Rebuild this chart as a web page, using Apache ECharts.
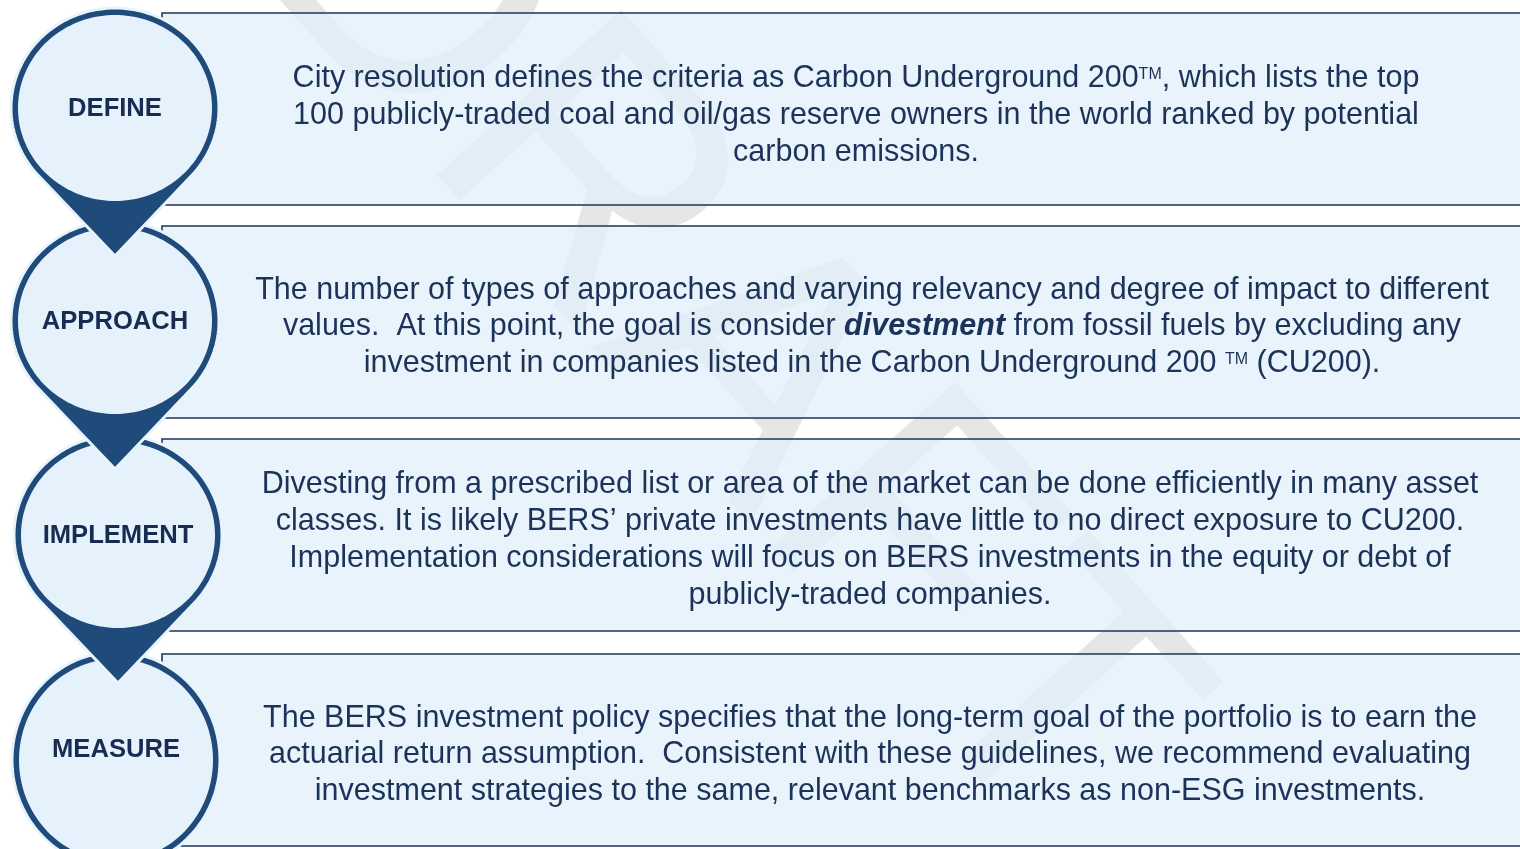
<!DOCTYPE html>
<html>
<head>
<meta charset="utf-8">
<script src="https://cdn.jsdelivr.net/npm/echarts@6/dist/echarts.min.js"></script>
<style>
html,body{margin:0;padding:0;background:#fff;}
#chart{width:1520px;height:849px;}
</style>
</head>
<body>
<div id="chart"></div>
<script>
// ---- content ----
const stageLabels = ['DEFINE', 'APPROACH', 'IMPLEMENT', 'MEASURE'];
const defineLines = [
  'City resolution defines the criteria as Carbon Underground 200{sup|TM}, which lists the top',
  '100 publicly-traded coal and oil/gas reserve owners in the world ranked by potential',
  'carbon emissions.'
];
const approachLines = [
  'The number of types of approaches and varying relevancy and degree of impact to different',
  'values.  At this point, the goal is consider {bi|divestment} from fossil fuels by excluding any',
  'investment in companies listed in the Carbon Underground 200 {sup|TM} (CU200).'
];
const implementLines = [
  'Divesting from a prescribed list or area of the market can be done efficiently in many asset',
  'classes. It is likely BERS\u2019 private investments have little to no direct exposure to CU200.',
  'Implementation considerations will focus on BERS investments in the equity or debt of',
  'publicly-traded companies.'
];
const measureLines = [
  'The BERS investment policy specifies that the long-term goal of the portfolio is to earn the',
  'actuarial return assumption.  Consistent with these guidelines, we recommend evaluating',
  'investment strategies to the same, relevant benchmarks as non-ESG investments.'
];
const stageLines = [defineLines, approachLines, implementLines, measureLines];
const watermarkText = 'DRAFT';

// ---- layout ----
const FONT = '"Liberation Sans", Arial, Helvetica, sans-serif';
const boxTop = [13, 226, 439, 654];
const boxH = 192;
const boxLeft = 162;
const pinCx = [115, 115, 118, 116];
const pinCy = [108, 321, 535, 760];
const pinRy = [100, 100, 100, 108];
const labelY = [109, 322, 536, 750];
const hasTip = [true, true, true, false];
const pinRx = 104, pinTip = 148;
const textCx = [856, 872, 870, 870];
const textShift = [6.5, 5, 5, 5];
const lineH = 36.8;

const dark = '#1f4b7b';
const light = '#e5f2fc';
const boxFill = 'rgba(225,239,250,0.74)';
const boxLine = '#1e3657';
const textColor = '#1b3259';

const elements = [];

// watermark (under the semi-transparent boxes)
elements.push({
  type: 'text', z: 1,
  x: 718, y: 340, rotation: -0.84,
  style: {
    text: watermarkText, fontSize: 360, fontFamily: FONT,
    fill: '#e6e6e6', textAlign: 'center', textVerticalAlign: 'middle'
  }
});

// boxes
boxTop.forEach((t, i) => {
  elements.push({
    type: 'rect', z: 2,
    shape: { x: boxLeft, y: t, width: 1500, height: boxH },
    style: { fill: boxFill, stroke: boxLine, lineWidth: 1.6 }
  });
});

// body texts
stageLines.forEach((lines, i) => {
  const center = boxTop[i] + boxH / 2 + textShift[i];
  const n = lines.length;
  lines.forEach((ln, j) => {
    elements.push({
      type: 'text', z: 3,
      x: textCx[i], y: center + (j - (n - 1) / 2) * lineH,
      style: {
        text: ln, fontSize: 30.5, fontFamily: FONT, fill: textColor,
        textAlign: 'center', textVerticalAlign: 'middle',
        rich: {
          sup: { fontSize: 16, fontFamily: FONT, fill: textColor, verticalAlign: 'top', padding: [3, 0, 0, 0] },
          bi: { fontSize: 30.5, fontFamily: FONT, fill: textColor, fontWeight: 'bold', fontStyle: 'italic' }
        }
      }
    });
  });
});

function ellipsePts(cx, cy, rx, ry, t0, t1, n) {
  const pts = [];
  for (let k = 0; k <= n; k++) {
    const t = t0 + (t1 - t0) * k / n;
    pts.push([cx + rx * Math.cos(t), cy + ry * Math.sin(t)]);
  }
  return pts;
}

// pins (draw bottom-most first so upper tips overlap lower circles)
for (let i = stageLabels.length - 1; i >= 0; i--) {
  const cx = pinCx[i], cy = pinCy[i], ry = pinRy[i];
  let outline;
  if (hasTip[i]) {
    const vt = pinTip * pinRx / ry;
    const c = pinRx / vt;
    const s = Math.sqrt(1 - c * c);
    const t0 = Math.atan2(c, s);
    outline = [[cx, cy + pinTip]].concat(ellipsePts(cx, cy, pinRx, ry, t0, -Math.PI - t0, 120));
  } else {
    outline = ellipsePts(cx, cy, pinRx, ry, 0, Math.PI * 2, 160);
  }
  const zb = 10 + (4 - i) * 3;
  elements.push({
    type: 'polygon', z: zb,
    shape: { points: outline },
    style: { fill: dark, stroke: '#e8f4fc', lineWidth: 3, lineJoin: 'miter' }
  });
  elements.push({
    type: 'polygon', z: zb + 1,
    shape: { points: ellipsePts(cx, cy, pinRx - 7, ry - 7, 0, Math.PI * 2, 160) },
    style: { fill: light }
  });
  elements.push({
    type: 'text', z: zb + 2,
    x: cx, y: labelY[i],
    style: {
      text: stageLabels[i], fontSize: 25.6, fontWeight: 'bold', fontFamily: FONT,
      fill: '#182c52', textAlign: 'center', textVerticalAlign: 'middle'
    }
  });
}

const chart = echarts.init(document.getElementById('chart'), null, { renderer: 'canvas', width: 1520, height: 849 });
chart.setOption({
  backgroundColor: '#ffffff',
  animation: false,
  graphic: { elements: elements }
});
</script>
</body>
</html>
